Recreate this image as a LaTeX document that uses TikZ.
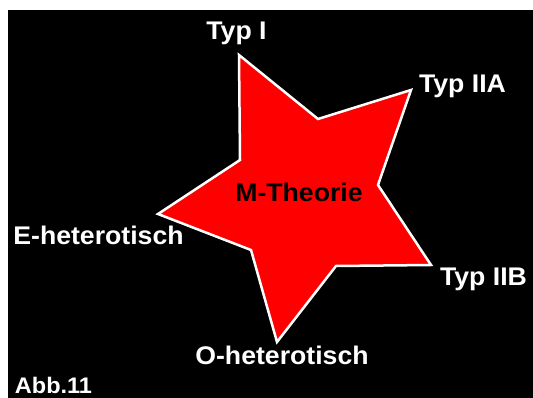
\documentclass[tikz,border=0pt]{standalone}
\usepackage{fontspec}
\setmainfont{Liberation Sans}
\newfontfamily\lblfont[FakeStretch=1.045]{Liberation Sans}
\begin{document}
\begin{tikzpicture}[x=1pt,y=-1pt,
  lbl/.style={text=white,font=\lblfont\fontsize{25.5}{30}\selectfont\bfseries,inner sep=0pt,anchor=base},
  starline/.style={draw=white,fill=red,line width=2.5pt,line join=miter}]
\useasboundingbox (0,0) rectangle (533,398);
\fill[white] (0,0) rectangle (533,398);
\fill[black] (8,10) rectangle (533,398);
\draw[starline] (239,55) -- (318,119) -- (411,90) -- (378,185) -- (431,265) -- (336,266)
  -- (277,342) -- (251,250) -- (158,214) -- (240,160) -- cycle;
\node[lbl] (typI) at (236.5,40) {Typ I};
\node[lbl] (typIIA) at (462.5,93) {Typ IIA};
\node[lbl] (typIIB) at (483.5,285) {Typ IIB};
\node[lbl] (ehet) at (98.5,245) {E-heterotisch};
\node[lbl] (ohet) at (282,364) {O-heterotisch};
\node[lbl,text=black] (mth) at (299,202) {M-Theorie};
\node[lbl,font=\lblfont\fontsize{22.5}{26}\selectfont\bfseries] (abb) at (53.5,393) {Abb.11};
\end{tikzpicture}
\end{document}
